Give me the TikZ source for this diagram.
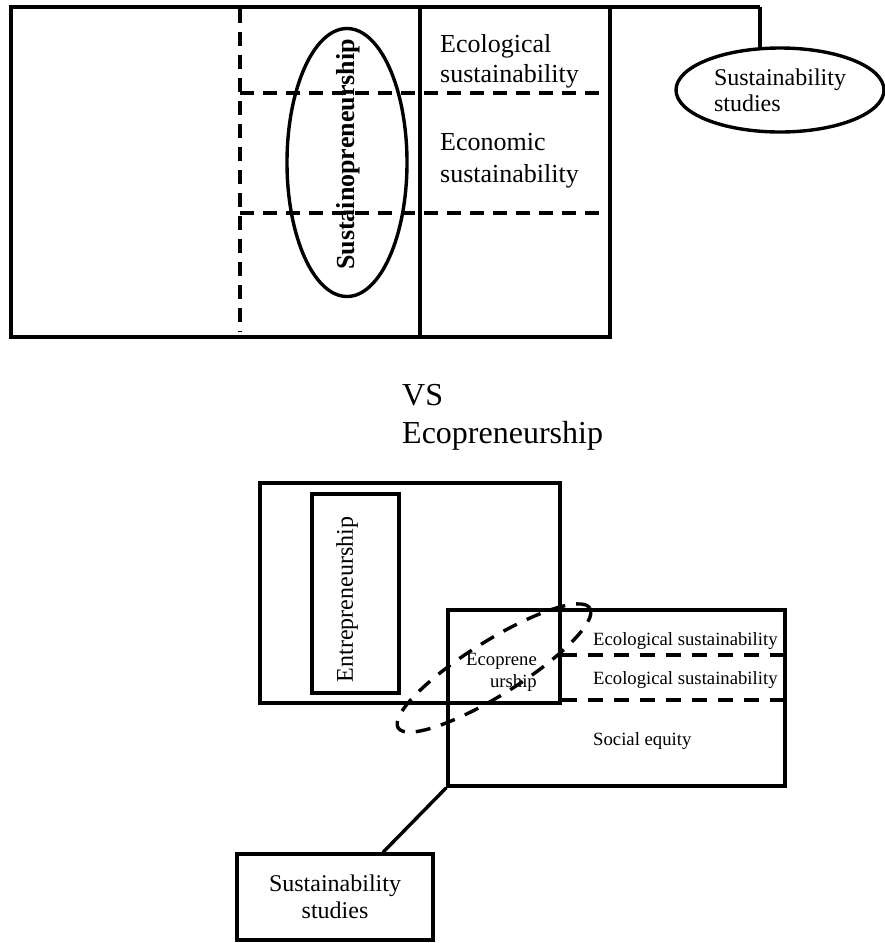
\documentclass[tikz,border=0pt]{standalone}
\usepackage{fontspec}
\setmainfont{Liberation Serif}
\usetikzlibrary{shapes.geometric,calc}
\tikzset{
  ln/.style={line width=3.4pt, line cap=butt},
  dsh/.style={line width=3.4pt, dash pattern=on 14pt off 9pt},
  dshb/.style={line width=3.4pt, dash pattern=on 15pt off 11pt},
  oval/.style={ellipse, draw, line width=3.4pt, inner sep=0pt},
  box/.style={rectangle, draw, line width=3.4pt, inner sep=0pt},
  txt/.style={inner sep=0pt, align=left},
}
\begin{document}
\begin{tikzpicture}[x=1pt,y=1pt]
\useasboundingbox (0,0) rectangle (885,-943);
% ---------- top part ----------
\draw[dsh] (240,-9) -- (240,-332);
\draw[dsh] (240,-93) -- (610,-93);
\draw[dsh] (240,-213) -- (610,-213);
\coordinate (tl) at (11,-7);
\coordinate (tk) at (760,-7);
\draw[ln] (tk) -- (tl) -- (11,-337) -- (610,-337) -- (610,-7);
\draw[ln] (420,-7) -- (420,-337);
\node[oval, minimum width=120pt, minimum height=268pt] (sus) at (347,-162.5) {};
\node[inner sep=0pt, rotate=90, font=\fontsize{26}{30}\selectfont\bfseries] (sustxt) at (348,-154.5) {Sustainopreneurship};
\node[txt, anchor=north west, font=\fontsize{26}{30}\selectfont] (eco1) at (440,-34.2) {Ecological\\sustainability};
\node[txt, anchor=north west, font=\fontsize{26}{32}\selectfont] (econ) at (440,-132.8) {Economic\\sustainability};
\node[oval, minimum width=208pt, minimum height=84pt, align=left, font=\fontsize{24}{26}\selectfont] (ssE) at (780,-90) {Sustainability\\studies};
\draw[ln] (tk) -- (tk |- ssE.116);
% ---------- middle text ----------
\node[txt, anchor=north west, font=\fontsize{32}{38}\selectfont] (vs) at (402,-383.8) {VS\\Ecopreneurship};
% ---------- bottom part ----------
\node[box, minimum width=300pt, minimum height=220pt] (boxA) at (410,-593) {};
\node[box, minimum width=87pt, minimum height=199pt] (entbox) at (355.5,-593.5) {};
\node[inner sep=0pt, rotate=90, font=\fontsize{24}{28}\selectfont] (enttxt) at (347,-599.5) {Entrepreneurship};
\node[box, minimum width=337pt, minimum height=176pt] (boxB) at (616.5,-698) {};
\draw[dshb] (boxA.east |- 0,-655) -- (boxB.east |- 0,-655);
\draw[dshb] (boxA.east |- 0,-700) -- (boxB.east |- 0,-700);
\draw[dshb, rotate around={32:(494,-668)}] (494,-668) ellipse [x radius=113pt, y radius=27pt];
\node[txt, anchor=north west, font=\fontsize{18.7}{39}\selectfont] (ecob1) at (593,-632.6) {Ecological sustainability\\Ecological sustainability};
\node[txt, anchor=north west, font=\fontsize{18.7}{22}\selectfont] (soc) at (593,-732.2) {Social equity};
\node[inner sep=0pt, align=right, anchor=north east, font=\fontsize{18.7}{22}\selectfont] (ecop) at (537,-652.6) {Ecoprene\\urship};
\node[box, minimum width=196pt, minimum height=86pt, align=center, font=\fontsize{24}{27}\selectfont] (ssB) at (335,-897) {Sustainability\\studies};
\draw[ln] (boxB.south west) -- ($(ssB.north)+(48,0)$);
\end{tikzpicture}
\end{document}
